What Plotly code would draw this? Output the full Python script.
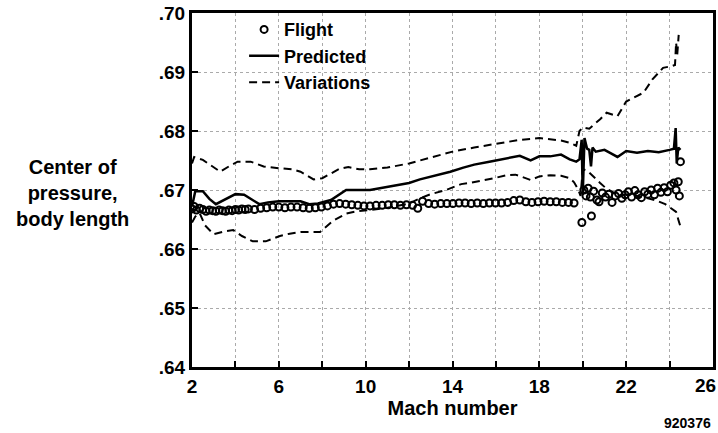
import plotly.graph_objects as go

# Flight data (open circles)
flight_mach = [
    2.00, 2.10, 2.20, 2.35, 2.50, 2.65, 2.80, 2.95, 3.10, 3.25, 3.40, 3.55,
    3.70, 3.85, 4.00, 4.15, 4.30, 4.45,
    4.60, 4.88, 5.16, 5.44, 5.72, 6.00, 6.28, 6.56, 6.84, 7.12, 7.40, 7.68,
    7.96, 8.24, 8.52, 8.80, 9.08, 9.36, 9.64, 9.92, 10.20, 10.48, 10.76,
    11.04, 11.32, 11.60, 11.88, 12.16, 12.40, 12.62, 12.90, 13.18, 13.46,
    13.74, 14.02, 14.30, 14.58, 14.86, 15.14, 15.42, 15.70, 15.98, 16.26,
    16.54, 16.82, 17.10, 17.38, 17.66, 17.94, 18.22, 18.50, 18.78, 19.06,
    19.34, 19.60,
    19.96, 20.40,
    20.05, 20.15, 20.25, 20.35, 20.50, 20.65, 20.75, 20.90, 21.05, 21.20,
    21.35, 21.50, 21.65, 21.80, 21.95, 22.10, 22.25, 22.40, 22.55, 22.70,
    22.85, 23.00, 23.15, 23.30, 23.45, 23.60, 23.75, 23.90, 24.05, 24.20,
    24.30, 24.40, 24.45,
    24.50,
]
flight_cp = [
    0.6668, 0.6672, 0.6666, 0.6669, 0.6667, 0.6664, 0.6666, 0.6665, 0.6664,
    0.6666, 0.6665, 0.6664, 0.6666, 0.6665, 0.6667, 0.6666, 0.6668, 0.6667,
    0.6668, 0.6667, 0.6669, 0.6670, 0.6671, 0.6671, 0.6670, 0.6671, 0.6671,
    0.6670, 0.6669, 0.6670, 0.6671, 0.6673, 0.6676, 0.6677, 0.6676, 0.6675,
    0.6674, 0.6673, 0.6673, 0.6674, 0.6674, 0.6675, 0.6675, 0.6674, 0.6675,
    0.6674, 0.6669, 0.6681, 0.6677, 0.6676, 0.6677, 0.6677, 0.6677, 0.6678,
    0.6678, 0.6677, 0.6678, 0.6677, 0.6678, 0.6678, 0.6678, 0.6679, 0.6682,
    0.6683, 0.6680, 0.6679, 0.6680, 0.6681, 0.6680, 0.6680, 0.6679, 0.6679,
    0.6678,
    0.6645, 0.6656,
    0.6700, 0.6690, 0.6703, 0.6688, 0.6698, 0.6683, 0.6680, 0.6695, 0.6688,
    0.6693, 0.6679, 0.6690, 0.6694, 0.6686, 0.6692, 0.6697, 0.6688, 0.6699,
    0.6692, 0.6687, 0.6697, 0.6693, 0.6700, 0.6692, 0.6703, 0.6696, 0.6704,
    0.6697, 0.6708, 0.6712, 0.6700, 0.6714, 0.6690,
    0.6748,
]

# Predicted (solid line)
pred_mach = [
    2.0, 2.15, 2.5, 2.8, 3.1, 3.5, 4.0, 4.4, 4.8, 5.1, 5.5, 6.0, 6.5, 7.0,
    7.4, 7.8, 8.4, 8.8, 9.1, 10.2, 11.0, 12.0, 12.5, 13.2, 13.9, 14.5, 15.0,
    15.7, 16.3, 17.1, 17.6, 18.0, 18.5, 19.0, 19.4, 19.7, 19.85, 19.95, 20.0,
    20.08, 20.2, 20.3, 20.38, 20.45, 20.6, 21.0, 21.3, 21.6, 22.0, 22.5,
    23.0, 23.5, 24.0, 24.2, 24.28, 24.33, 24.4, 24.5,
]
pred_cp = [
    0.6672, 0.6698, 0.6698, 0.6685, 0.6676, 0.6683, 0.6693, 0.6692, 0.6682,
    0.6676, 0.6679, 0.6681, 0.6681, 0.6681, 0.6676, 0.6677, 0.6683, 0.6692,
    0.6700, 0.6700, 0.6705, 0.6712, 0.6718, 0.6724, 0.6731, 0.6738, 0.6743,
    0.6748, 0.6752, 0.6758, 0.6750, 0.6757, 0.6757, 0.6760, 0.6752, 0.6748,
    0.6752, 0.6785, 0.6692, 0.6788, 0.6770, 0.6768, 0.6740, 0.6772, 0.6765,
    0.6768, 0.6762, 0.6756, 0.6766, 0.6763, 0.6766, 0.6764, 0.6768, 0.6770,
    0.6805, 0.6745, 0.6772, 0.6768,
]

# Variations (dashed), upper and lower bounds
upper_mach = [
    2.0, 2.1, 2.5, 3.0, 3.3, 3.7, 4.1, 4.7, 5.3, 6.0, 6.6, 7.0, 7.6, 8.0,
    8.4, 8.8, 9.2, 9.7, 10.2, 11.0, 12.0, 13.0, 14.0, 15.0, 15.9, 16.5,
    17.1, 18.0, 18.6, 19.0, 19.4, 19.7, 19.85, 20.0, 20.3, 20.5, 20.8,
    21.1, 21.4, 21.6, 22.0, 22.4, 22.8, 23.2, 23.7, 24.1, 24.25, 24.3,
    24.35, 24.42,
]
upper_cp = [
    0.6745, 0.6756, 0.6751, 0.6738, 0.6731, 0.6740, 0.6748, 0.6748, 0.6740,
    0.6737, 0.6735, 0.6731, 0.6718, 0.6720, 0.6728, 0.6736, 0.6739, 0.6735,
    0.6735, 0.6738, 0.6745, 0.6755, 0.6765, 0.6772, 0.6778, 0.6782, 0.6785,
    0.6788, 0.6786, 0.6784, 0.6780, 0.6775, 0.6800, 0.6806, 0.6804, 0.6810,
    0.6820, 0.6831, 0.6828, 0.6825, 0.6850, 0.6858, 0.6865, 0.6887, 0.6907,
    0.6910, 0.6912, 0.6950, 0.6928, 0.6963,
]
lower_mach = [
    2.0, 2.15, 2.35, 2.6, 3.0, 3.5, 3.9, 4.3, 4.8, 5.4, 6.05, 6.5, 7.0, 7.9,
    8.5, 9.1, 9.6, 10.2, 11.0, 12.0, 12.5, 13.0, 13.7, 14.4, 14.8, 15.4,
    15.9, 16.5, 16.9, 17.3, 17.6, 18.0, 18.5, 19.0, 19.4, 19.6, 19.8, 19.9,
    20.0, 20.2, 20.5, 20.8, 21.1, 21.5, 22.0, 22.5, 23.0, 23.4, 23.8, 24.1,
    24.3, 24.4, 24.5,
]
lower_cp = [
    0.6645, 0.6655, 0.6661, 0.6640, 0.6625, 0.6630, 0.6632, 0.6622, 0.6613,
    0.6613, 0.6622, 0.6626, 0.6629, 0.6629, 0.6648, 0.6660, 0.6664, 0.6666,
    0.6670, 0.6677, 0.6686, 0.6693, 0.6700, 0.6710, 0.6712, 0.6716, 0.6720,
    0.6725, 0.6726, 0.6721, 0.6717, 0.6723, 0.6725, 0.6724, 0.6720, 0.6713,
    0.6700, 0.6690, 0.6735, 0.6733, 0.6722, 0.6712, 0.6702, 0.6694, 0.6692,
    0.6690, 0.6686, 0.6682, 0.6676, 0.6668, 0.6663, 0.6650, 0.6638,
]

x_ticks = [2, 4, 6, 8, 10, 12, 14, 16, 18, 20, 22, 24, 26]
x_labels = ["2", "", "6", "", "10", "", "14", "", "18", "", "22", "", ""]
y_ticks = [0.64, 0.65, 0.66, 0.67, 0.68, 0.69, 0.70]
y_labels = [".64", ".65", ".66", ".67", ".68", ".69", ".70"]

FONT = "Liberation Sans, Arial, Helvetica, sans-serif"
TICK_FONT = dict(family=FONT, size=19, color="black", weight="bold")

fig = go.Figure()
fig.add_trace(go.Scatter(
    x=flight_mach, y=flight_cp, mode="markers", name="Flight",
    marker=dict(symbol="circle-open", size=7, color="black",
                line=dict(width=2, color="black")),
))
fig.add_trace(go.Scatter(
    x=pred_mach, y=pred_cp, mode="lines", name="Predicted",
    line=dict(color="black", width=2.5),
))
fig.add_trace(go.Scatter(
    x=upper_mach, y=upper_cp, mode="lines", name="Variations",
    legendgroup="var", line=dict(color="black", width=2, dash="8px,5px"),
))
fig.add_trace(go.Scatter(
    x=lower_mach, y=lower_cp, mode="lines", name="Variations",
    legendgroup="var", showlegend=False,
    line=dict(color="black", width=2, dash="8px,5px"),
))

axis_style = dict(
    ticks="inside", ticklen=6, tickwidth=2, tickcolor="black",
    showline=True, linewidth=3, linecolor="black", mirror=True,
    showgrid=True, gridcolor="#aaa", griddash="dot", gridwidth=1,
    zeroline=False, automargin=False, tickfont=TICK_FONT,
)
fig.update_xaxes(
    range=[2, 26], tickvals=x_ticks, ticktext=x_labels,
    title=dict(text="Mach number", standoff=6,
               font=dict(family=FONT, size=20, color="black", weight="bold")),
    **axis_style,
)
fig.update_yaxes(range=[0.64, 0.70], tickvals=y_ticks, ticktext=y_labels,
                 **axis_style)

# last x tick label sits against the right edge of the page
fig.add_annotation(
    text="26", xref="paper", yref="paper", x=1.0098, y=-0.052,
    xanchor="right", yanchor="middle", showarrow=False, font=TICK_FONT,
)
fig.add_annotation(
    text="Center of<br>pressure,<br>body length",
    xref="paper", yref="paper", x=-0.23, y=0.492,
    xanchor="center", yanchor="middle", showarrow=False, align="center",
    font=dict(family=FONT, size=20, color="black", weight="bold"),
)
fig.add_annotation(
    text="920376", xref="paper", yref="paper", x=0.952, y=-0.158,
    xanchor="center", yanchor="middle", showarrow=False,
    font=dict(family=FONT, size=14, color="black", weight="bold"),
)

fig.update_layout(
    width=718, height=433,
    margin=dict(l=192, r=5, t=13, b=66),
    paper_bgcolor="white", plot_bgcolor="white",
    font=dict(family=FONT, color="black"),
    showlegend=True,
    legend=dict(
        x=0.1, y=1.005, xanchor="left", yanchor="top",
        bgcolor="rgba(0,0,0,0)", tracegroupgap=0,
        font=dict(family=FONT, size=18, color="black", weight="bold"),
    ),
)

# drop the default 8px page margin so the figure fills the window exactly
fig.write_html("out.html", config={"displayModeBar": False},
               post_script="document.body.style.margin='0';")
